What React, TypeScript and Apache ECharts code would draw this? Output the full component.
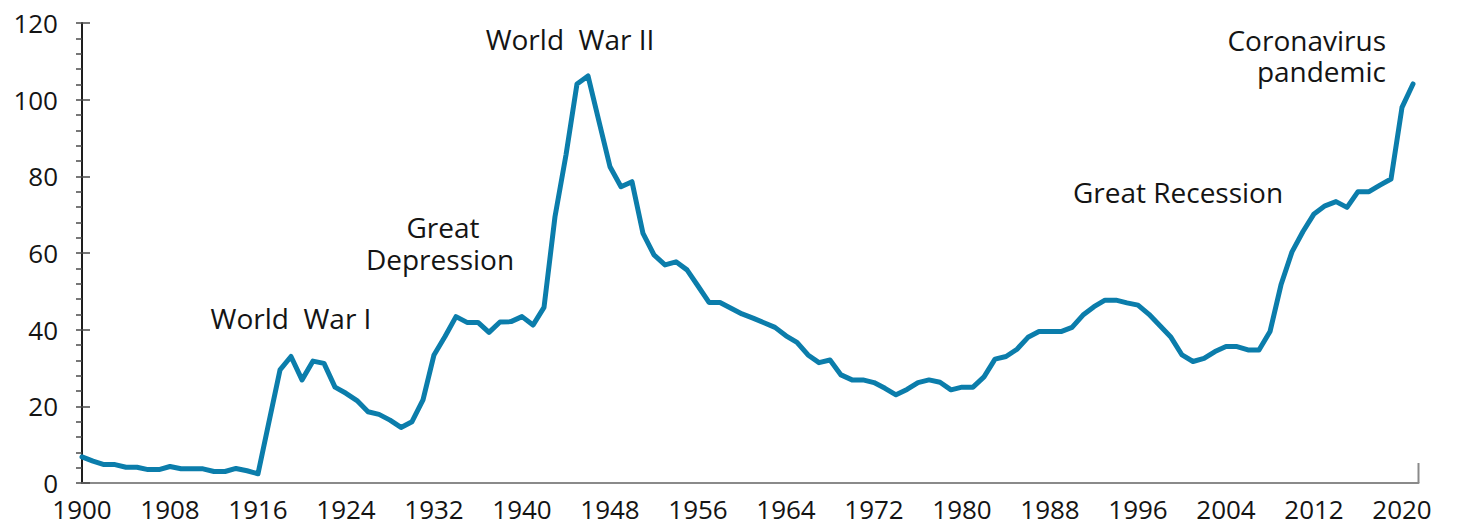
import React, { useEffect, useRef } from "react";
import * as echarts from "echarts";

// ---- Data ----
const BASE_YEAR = 1900;

const years: number[] = [
  1900, 1901, 1902, 1903, 1904, 1905, 1906, 1907, 1908, 1909,
  1910, 1911, 1912, 1913, 1914, 1915, 1916, 1917, 1918, 1919,
  1920, 1921, 1922, 1923, 1924, 1925, 1926, 1927, 1928, 1929,
  1930, 1931, 1932, 1933, 1934, 1935, 1936, 1937, 1938, 1939,
  1940, 1941, 1942, 1943, 1944, 1945, 1946, 1947, 1948, 1949,
  1950, 1951, 1952, 1953, 1954, 1955, 1956, 1957, 1958, 1959,
  1960, 1961, 1962, 1963, 1964, 1965, 1966, 1967, 1968, 1969,
  1970, 1971, 1972, 1973, 1974, 1975, 1976, 1977, 1978, 1979,
  1980, 1981, 1982, 1983, 1984, 1985, 1986, 1987, 1988, 1989,
  1990, 1991, 1992, 1993, 1994, 1995, 1996, 1997, 1998, 1999,
  2000, 2001, 2002, 2003, 2004, 2005, 2006, 2007, 2008, 2009,
  2010, 2011, 2012, 2013, 2014, 2015, 2016, 2017, 2018, 2019,
  2020, 2021,
];

const debtPctGdp: number[] = [
  6.8, 5.7, 4.8, 4.8, 4.1, 4.1, 3.5, 3.5, 4.3, 3.7,
  3.7, 3.7, 3.0, 3.0, 3.8, 3.2, 2.4, 16.0, 29.5, 33.0,
  26.9, 31.8, 31.2, 25.0, 23.4, 21.5, 18.6, 17.9, 16.4, 14.5,
  16.0, 21.7, 33.4, 38.2, 43.4, 41.9, 41.9, 39.3, 42.0, 42.1,
  43.4, 41.2, 45.8, 69.5, 85.6, 104.1, 106.2, 94.3, 82.5, 77.3,
  78.6, 65.1, 59.5, 56.9, 57.7, 55.6, 51.4, 47.1, 47.1, 45.6,
  44.1, 43.0, 41.8, 40.6, 38.4, 36.7, 33.4, 31.4, 32.1, 28.2,
  26.9, 26.9, 26.2, 24.7, 23.0, 24.4, 26.2, 26.9, 26.3, 24.3,
  25.0, 25.0, 27.7, 32.3, 33.0, 34.9, 38.0, 39.5, 39.5, 39.5,
  40.6, 43.8, 46.0, 47.7, 47.7, 47.0, 46.4, 44.0, 41.0, 38.0,
  33.4, 31.7, 32.5, 34.3, 35.6, 35.6, 34.7, 34.7, 39.5, 51.7,
  60.3, 65.6, 70.2, 72.3, 73.4, 71.9, 76.0, 76.0, 77.7, 79.3,
  98.0, 104.1,
];

const xTickLabels: number[] = [
  1900, 1908, 1916, 1924, 1932, 1940, 1948, 1956, 1964, 1972, 1980, 1988, 1996, 2004, 2012, 2020,
];
const yTickLabels: number[] = [0, 20, 40, 60, 80, 100, 120];

const annotationLines = {
  ww1: "World  War I",
  depression1: "Great",
  depression2: "Depression",
  ww2: "World  War II",
  recession: "Great Recession",
  covid1: "Coronavirus",
  covid2: "pandemic",
};

const FONT = '"Open Sans", "Noto Sans", sans-serif';
const LINE_COLOR = "#0b7dab";
const TEXT_COLOR = "#141414";

export default function App() {
  const ref = useRef<HTMLDivElement | null>(null);

  useEffect(() => {
    if (!ref.current) return;
    const chart = echarts.init(ref.current, undefined, { renderer: "svg" });

    const seriesData = years.map((y, i) => [y - BASE_YEAR, debtPctGdp[i]]);
    const xMaxOffset = years[years.length - 1] - BASE_YEAR + 0.5;
    const yMin = yTickLabels[0];
    const yMax = yTickLabels[yTickLabels.length - 1];
    const yInterval = yTickLabels[1] - yTickLabels[0];
    const xInterval = xTickLabels[1] - xTickLabels[0];

    const textStyle = (extra: any) => ({
      fontSize: 28,
      fontFamily: FONT,
      fill: TEXT_COLOR,
      verticalAlign: "middle",
      lineHeight: 28,
      ...extra,
    });

    chart.setOption({
      animation: false,
      backgroundColor: "#ffffff",
      grid: { left: 82, right: 38.5, top: 23, bottom: 44, containLabel: false },
      xAxis: {
        type: "value",
        min: 0,
        max: xMaxOffset,
        interval: xInterval,
        axisLine: { show: true, onZero: false, lineStyle: { color: "#8a8a8a", width: 2 } },
        axisTick: { show: false },
        splitLine: { show: false },
        axisLabel: {
          fontSize: 26,
          fontFamily: FONT,
          color: TEXT_COLOR,
          lineHeight: 22,
          margin: 15,
          showMaxLabel: false,
          formatter: (v: number) => {
            const yr = Math.round(v + BASE_YEAR);
            return xTickLabels.indexOf(yr) >= 0 && Math.abs(v + BASE_YEAR - yr) < 1e-6 ? String(yr) : "";
          },
        },
      },
      yAxis: [
        {
          type: "value",
          position: "left",
          min: yMin,
          max: yMax,
          interval: yInterval,
          axisLine: { show: true, onZero: false, lineStyle: { color: "#1e1e1e", width: 2 } },
          axisTick: { show: true, length: 6, lineStyle: { color: "#4a4a4a", width: 1.5 } },
          minorTick: { show: true, splitNumber: 5, length: 6, lineStyle: { color: "#4a4a4a", width: 1.5 } },
          splitLine: { show: false },
          axisLabel: { fontSize: 26, fontFamily: FONT, color: TEXT_COLOR, margin: 24, lineHeight: 22 },
        },
        {
          type: "value",
          position: "left",
          min: yMin,
          max: yMax,
          interval: yInterval,
          axisLine: { show: false },
          axisTick: { show: true, inside: true, length: 8, lineStyle: { color: "#4a4a4a", width: 1.5 } },
          splitLine: { show: false },
          axisLabel: { show: false },
        },
      ],
      series: [
        {
          type: "line",
          yAxisIndex: 0,
          data: seriesData,
          symbol: "none",
          showSymbol: false,
          lineStyle: { color: LINE_COLOR, width: 5, join: "round", cap: "round" },
          z: 5,
        },
      ],
    });

    const endPt = chart.convertToPixel({ gridIndex: 0 } as any, [xMaxOffset, 0]) as number[];

    chart.setOption({
      graphic: [
        {
          type: "line",
          shape: { x1: endPt[0], y1: endPt[1] - 20, x2: endPt[0], y2: endPt[1] },
          style: { stroke: "#8a8a8a", lineWidth: 2 },
          z: 10,
        },
        { type: "text", x: 291, y: 318, style: textStyle({ text: annotationLines.ww1, align: "center" }) },
        { type: "text", x: 443, y: 227, style: textStyle({ text: annotationLines.depression1, align: "center" }) },
        { type: "text", x: 440, y: 259, style: textStyle({ text: annotationLines.depression2, align: "center" }) },
        { type: "text", x: 570, y: 39, style: textStyle({ text: annotationLines.ww2, align: "center" }) },
        { type: "text", x: 1178, y: 192, style: textStyle({ text: annotationLines.recession, align: "center" }) },
        { type: "text", x: 1386, y: 40, style: textStyle({ text: annotationLines.covid1, align: "right" }) },
        { type: "text", x: 1386, y: 71, style: textStyle({ text: annotationLines.covid2, align: "right" }) },
      ],
    });

    return () => {
      chart.dispose();
    };
  }, []);

  return (
    <div
      ref={ref}
      style={{ position: "fixed", left: 0, top: 0, width: 1457, height: 527, background: "#fff" }}
    />
  );
}
